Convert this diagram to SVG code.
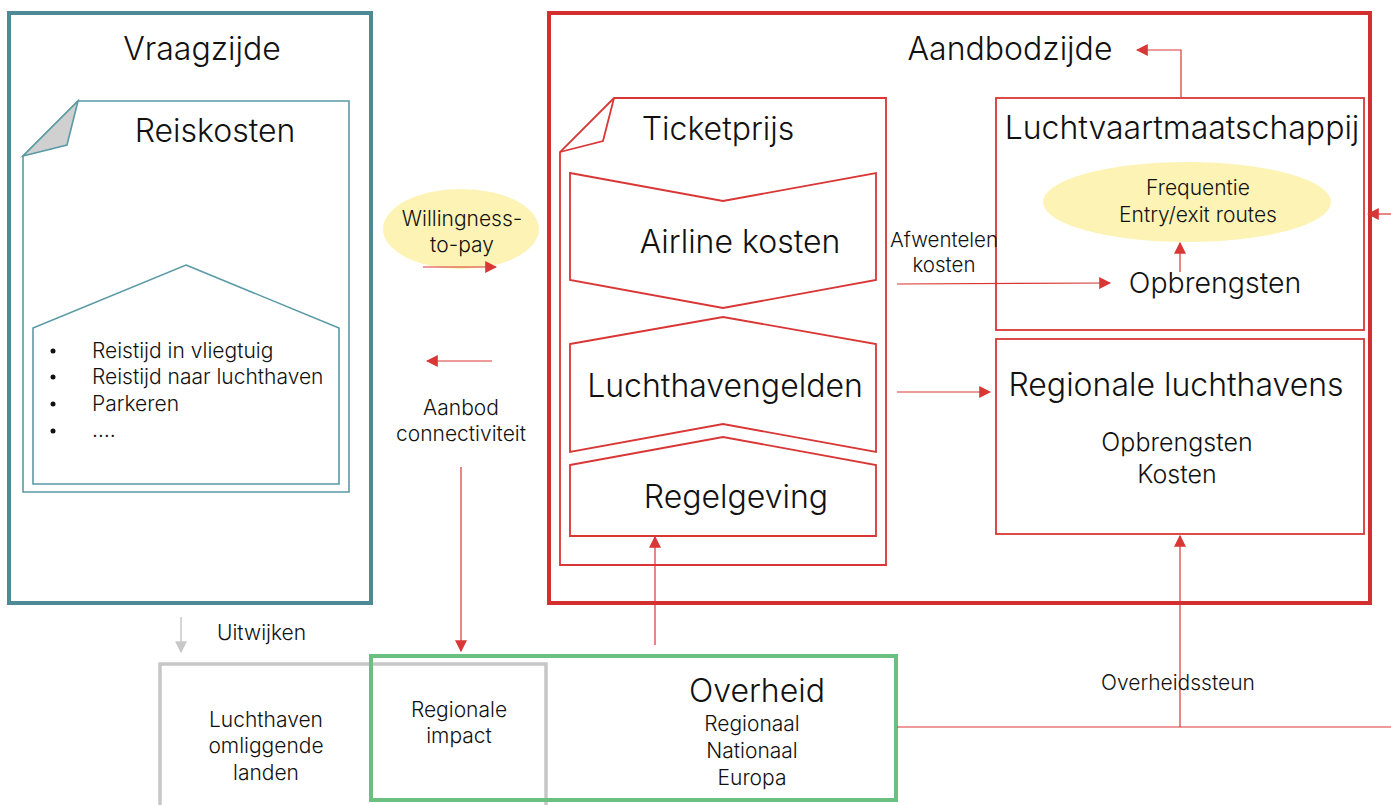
<svg xmlns="http://www.w3.org/2000/svg" width="1391" height="805" viewBox="0 0 1391 805">
<defs>
<style>
text{font-family:Inter,"Liberation Sans",sans-serif;font-weight:300;fill:#111;}
.t30{font-size:32px;}
.t28{font-size:28.5px;}
.t24{font-size:25px;}
.t20{font-size:21px;}
.t19{font-size:21px;}
.t18{font-size:20.5px;}
.teal{fill:none;stroke:#4e8a96;stroke-width:4;}
.tealthin{fill:none;stroke:#5a9aa6;stroke-width:1.6;}
.redbig{fill:none;stroke:#d32f2f;stroke-width:4;}
.red{fill:none;stroke:#d93636;stroke-width:1.8;}
.green{fill:none;stroke:#6bbf80;stroke-width:4;}
.gray{fill:none;stroke:#c6c6c6;stroke-width:3.5;}
.yellow{fill:#fdf3b5;}
.conn{fill:none;stroke:#d93636;stroke-width:1.2;}
.conng{fill:none;stroke:#c8c8c8;stroke-width:1.5;}
</style>
<marker id="ah" viewBox="0 0 10 10" refX="9" refY="5" markerWidth="12" markerHeight="12" markerUnits="userSpaceOnUse" orient="auto">
<path d="M0,0 L10,5 L0,10 z" fill="#d93636"/>
</marker>
<marker id="ahg" viewBox="0 0 10 10" refX="9" refY="5" markerWidth="12" markerHeight="12" markerUnits="userSpaceOnUse" orient="auto">
<path d="M0,0 L10,5 L0,10 z" fill="#c8c8c8"/>
</marker>
</defs>

<g id="vraagzijde">
<rect class="teal" x="9" y="13" width="362" height="590"/>
<text class="t30" x="202" y="60" text-anchor="middle">Vraagzijde</text>
</g>

<g id="reiskosten">
<path class="tealthin" d="M78,101 L349,101 L349,492 L23,492 L23,156 Z"/>
<path d="M23,156 L67,145 L78,101 Z" fill="#d0d0d0" stroke="#5a9aa6" stroke-width="1.6"/>
<text class="t30" x="215" y="142" text-anchor="middle">Reiskosten</text>
</g>

<g id="reistijd">
<path class="tealthin" d="M186,265 L339,328 L339,484 L33,484 L33,328 Z"/>
<circle cx="53" cy="351" r="2.5" fill="#111"/>
<circle cx="53" cy="377" r="2.5" fill="#111"/>
<circle cx="53" cy="404" r="2.5" fill="#111"/>
<circle cx="53" cy="431" r="2.5" fill="#111"/>
<text class="t19" x="92" y="358">Reistijd in vliegtuig</text>
<text class="t19" x="92" y="384">Reistijd naar luchthaven</text>
<text class="t19" x="92" y="411">Parkeren</text>
<text class="t19" x="92" y="437">….</text>
</g>

<g id="willingness">
<ellipse class="yellow" cx="461" cy="229" rx="78" ry="40"/>
<text class="t19" x="462" y="226" text-anchor="middle">Willingness-</text>
<text class="t19" x="462" y="252" text-anchor="middle">to-pay</text>
</g>

<g id="aanbod-connectiviteit">
<text class="t19" x="461" y="415" text-anchor="middle">Aanbod</text>
<text class="t19" x="461" y="441" text-anchor="middle">connectiviteit</text>
</g>

<g id="aanbodzijde">
<rect class="redbig" x="549" y="13" width="821" height="590"/>
<text class="t30" x="1010" y="60" text-anchor="middle">Aandbodzijde</text>
</g>

<g id="ticketprijs">
<path class="red" d="M614,98 L886,98 L886,565 L560,565 L560,152 Z"/>
<path class="red" d="M560,152 L603,141 L614,98"/>
<text class="t30" x="718" y="140" text-anchor="middle">Ticketprijs</text>
</g>

<g id="airline-kosten">
<path class="red" d="M570,173 L723,201 L876,173 L876,280 L723,308 L570,280 Z"/>
<text class="t30" x="740" y="253" text-anchor="middle">Airline kosten</text>
</g>

<g id="luchthavengelden">
<path class="red" d="M570,344 L723,317 L876,344 L876,452 L723,424 L570,452 Z"/>
<text class="t30" x="725" y="397" text-anchor="middle">Luchthavengelden</text>
</g>

<g id="regelgeving">
<path class="red" d="M570,465 L723,437 L876,465 L876,536 L570,536 Z"/>
<text class="t30" x="736" y="508" text-anchor="middle">Regelgeving</text>
</g>

<g id="luchtvaartmaatschappij">
<rect class="red" x="996" y="98" width="368" height="232"/>
<text class="t30" x="1182" y="139" text-anchor="middle">Luchtvaartmaatschappij</text>
<ellipse class="yellow" cx="1187" cy="202" rx="144" ry="40"/>
<text class="t19" x="1198" y="195" text-anchor="middle">Frequentie</text>
<text class="t19" x="1198" y="222" text-anchor="middle">Entry/exit routes</text>
<text class="t28" x="1215" y="293" text-anchor="middle">Opbrengsten</text>
</g>

<g id="regionale-luchthavens">
<rect class="red" x="996" y="339" width="368" height="195"/>
<text class="t30" x="1176" y="396" text-anchor="middle">Regionale luchthavens</text>
<text class="t24" x="1177" y="451" text-anchor="middle">Opbrengsten</text>
<text class="t24" x="1177" y="483" text-anchor="middle">Kosten</text>
</g>

<g id="luchthaven-omliggende-landen">
<path class="gray" d="M160,805 L160,664 L546,664 L546,805"/>
<text class="t19" x="266" y="727" text-anchor="middle">Luchthaven</text>
<text class="t19" x="266" y="753" text-anchor="middle">omliggende</text>
<text class="t19" x="266" y="780" text-anchor="middle">landen</text>
</g>

<g id="overheid">
<rect class="green" x="371" y="656" width="525" height="144"/>
<text class="t30" x="757" y="702" text-anchor="middle">Overheid</text>
<text class="t20" x="752" y="731" text-anchor="middle">Regionaal</text>
<text class="t20" x="752" y="758" text-anchor="middle">Nationaal</text>
<text class="t20" x="752" y="785" text-anchor="middle">Europa</text>
<text class="t19" x="459" y="717" text-anchor="middle">Regionale</text>
<text class="t19" x="459" y="743" text-anchor="middle">impact</text>
</g>

<g id="connectors">
<line class="conn" x1="423" y1="267" x2="496" y2="267" marker-end="url(#ah)"/>
<line class="conn" x1="492" y1="361" x2="427" y2="361" marker-end="url(#ah)"/>
<line class="conn" x1="461" y1="467" x2="461" y2="651" marker-end="url(#ah)"/>
<polyline class="conn" points="1181,97 1181,50 1137,50" marker-end="url(#ah)"/>
<line class="conn" x1="1180" y1="272" x2="1180" y2="243" marker-end="url(#ah)"/>
<line class="conn" x1="897" y1="284" x2="1110" y2="283" marker-end="url(#ah)"/>
<text class="t18" x="944" y="247" text-anchor="middle">Afwentelen</text>
<text class="t18" x="944" y="272" text-anchor="middle">kosten</text>
<line class="conn" x1="1391" y1="214" x2="1368" y2="214" marker-end="url(#ah)"/>
<line class="conn" x1="897" y1="392" x2="990" y2="392" marker-end="url(#ah)"/>
<line class="conn" x1="655" y1="645" x2="655" y2="537" marker-end="url(#ah)"/>
<line class="conn" x1="897" y1="727" x2="1391" y2="727"/>
<line class="conn" x1="1180" y1="727" x2="1180" y2="536" marker-end="url(#ah)"/>
<text class="t19" x="1178" y="690" text-anchor="middle">Overheidssteun</text>
<line class="conng" x1="181" y1="617" x2="181" y2="652" marker-end="url(#ahg)"/>
<text class="t19" x="217" y="640">Uitwijken</text>
</g>
</svg>
